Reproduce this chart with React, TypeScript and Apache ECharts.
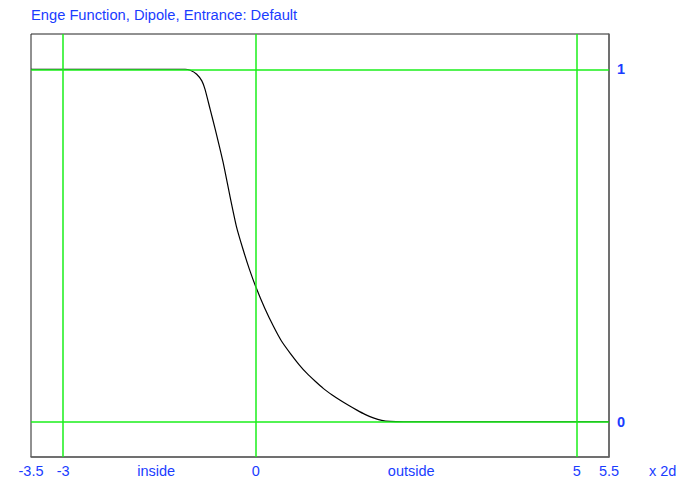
import React, { useEffect, useRef } from "react";
import * as echarts from "echarts";

const titleText = "Enge Function, Dipole, Entrance: Default";
const xTickValues = [-3.5, -3, 0, 5, 5.5];
const yTickValues = [0, 1];
const xGridValues = [-3, 0, 5];
const yGridValues = [0, 1];
const regionLabelValues = [-1.55, 2.42];
const regionLabelTexts = ["inside", "outside"];
const axisUnit = "x 2d";
const curveX = [-3.5, -1.1, -1.02, -0.92, -0.84, -0.79, -0.71, -0.63, -0.51, -0.4, -0.3, -0.2, -0.1, 0, 0.14, 0.277, 0.4, 0.537, 0.67, 0.797, 0.93, 1.055, 1.19, 1.315, 1.45, 1.575, 1.7, 1.83, 1.96, 2.09, 2.3, 5.5];
const curveY = [1, 1, 0.997, 0.986, 0.967, 0.943, 0.886, 0.829, 0.737, 0.638, 0.553, 0.49, 0.433, 0.383, 0.322, 0.27, 0.229, 0.194, 0.163, 0.137, 0.114, 0.094, 0.076, 0.061, 0.046, 0.033, 0.021, 0.011, 0.004, 0.001, 0, 0];

const BLUE = "#1a3cff";
const GREEN = "#1aef1a";
const FONT = "Liberation Sans, Arial, sans-serif";

export default function App() {
  const ref = useRef<HTMLDivElement>(null);
  useEffect(() => {
    if (!ref.current) return;
    const chart = echarts.init(ref.current, null, { renderer: "svg" });
    const curve = curveX.map((x, i) => [x, curveY[i]]);
    const markData: any[] = [
      ...xGridValues.map((v) => ({ xAxis: v })),
      ...yGridValues.map((v) => ({ yAxis: v })),
    ];
    chart.setOption({
      animation: false,
      backgroundColor: "#ffffff",
      title: {
        text: titleText,
        left: 26,
        top: 2,
        textStyle: { color: BLUE, fontSize: 14.7, fontWeight: "normal", fontFamily: FONT },
      },
      grid: {
        left: 31,
        right: 67,
        top: 34,
        bottom: 24,
        show: true,
        borderColor: "#222222",
        borderWidth: 1,
        backgroundColor: "transparent",
      },
      xAxis: [
        {
          type: "value",
          min: -3.5,
          max: 5.5,
          position: "bottom",
          axisLine: { show: true, onZero: false, lineStyle: { color: "#666666", width: 1.5 } },
          axisTick: { show: false },
          splitLine: { show: false },
          axisLabel: {
            customValues: xTickValues,
            showMinLabel: true,
            showMaxLabel: true,
            margin: 6,
            color: BLUE,
            fontSize: 14.5,
            fontFamily: FONT,
            formatter: (v: number) => String(v),
          },
        },
        {
          type: "value",
          min: -3.5,
          max: 5.5,
          position: "bottom",
          axisLine: { show: false },
          axisTick: { show: false },
          splitLine: { show: false },
          axisLabel: {
            customValues: regionLabelValues,
            margin: 6,
            color: BLUE,
            fontSize: 14.5,
            fontFamily: FONT,
            formatter: (v: number) => {
              const i = regionLabelValues.indexOf(v);
              return i >= 0 ? regionLabelTexts[i] : "";
            },
          },
        },
      ],
      yAxis: {
        type: "value",
        min: -0.1,
        max: 1.1,
        position: "right",
        axisLine: { show: true, onZero: false, lineStyle: { color: "#666666", width: 1.5 } },
        axisTick: { show: false },
        splitLine: { show: false },
        axisLabel: {
          customValues: yTickValues,
          margin: 8,
          color: BLUE,
          fontSize: 14.5,
          fontWeight: "bold",
          fontFamily: FONT,
        },
      },
      graphic: [
        {
          type: "text",
          left: 649,
          top: 463,
          style: { text: axisUnit, fill: BLUE, fontSize: 14.5, fontFamily: FONT },
        },
      ],
      series: [
        {
          type: "line",
          data: [],
          z: 1,
          silent: true,
          markLine: {
            silent: true,
            symbol: ["none", "none"],
            label: { show: false },
            lineStyle: { color: GREEN, width: 1.5, type: "solid" },
            emphasis: { disabled: true },
            data: markData,
          },
        },
        {
          type: "line",
          data: curve,
          z: 3,
          showSymbol: false,
          smooth: 0.2,
          lineStyle: { color: "#000000", width: 1.2 },
        },
      ],
    });
    return () => chart.dispose();
  }, []);
  return <div ref={ref} style={{ width: 676, height: 481, position: "absolute", left: 0, top: 0 }} />;
}
